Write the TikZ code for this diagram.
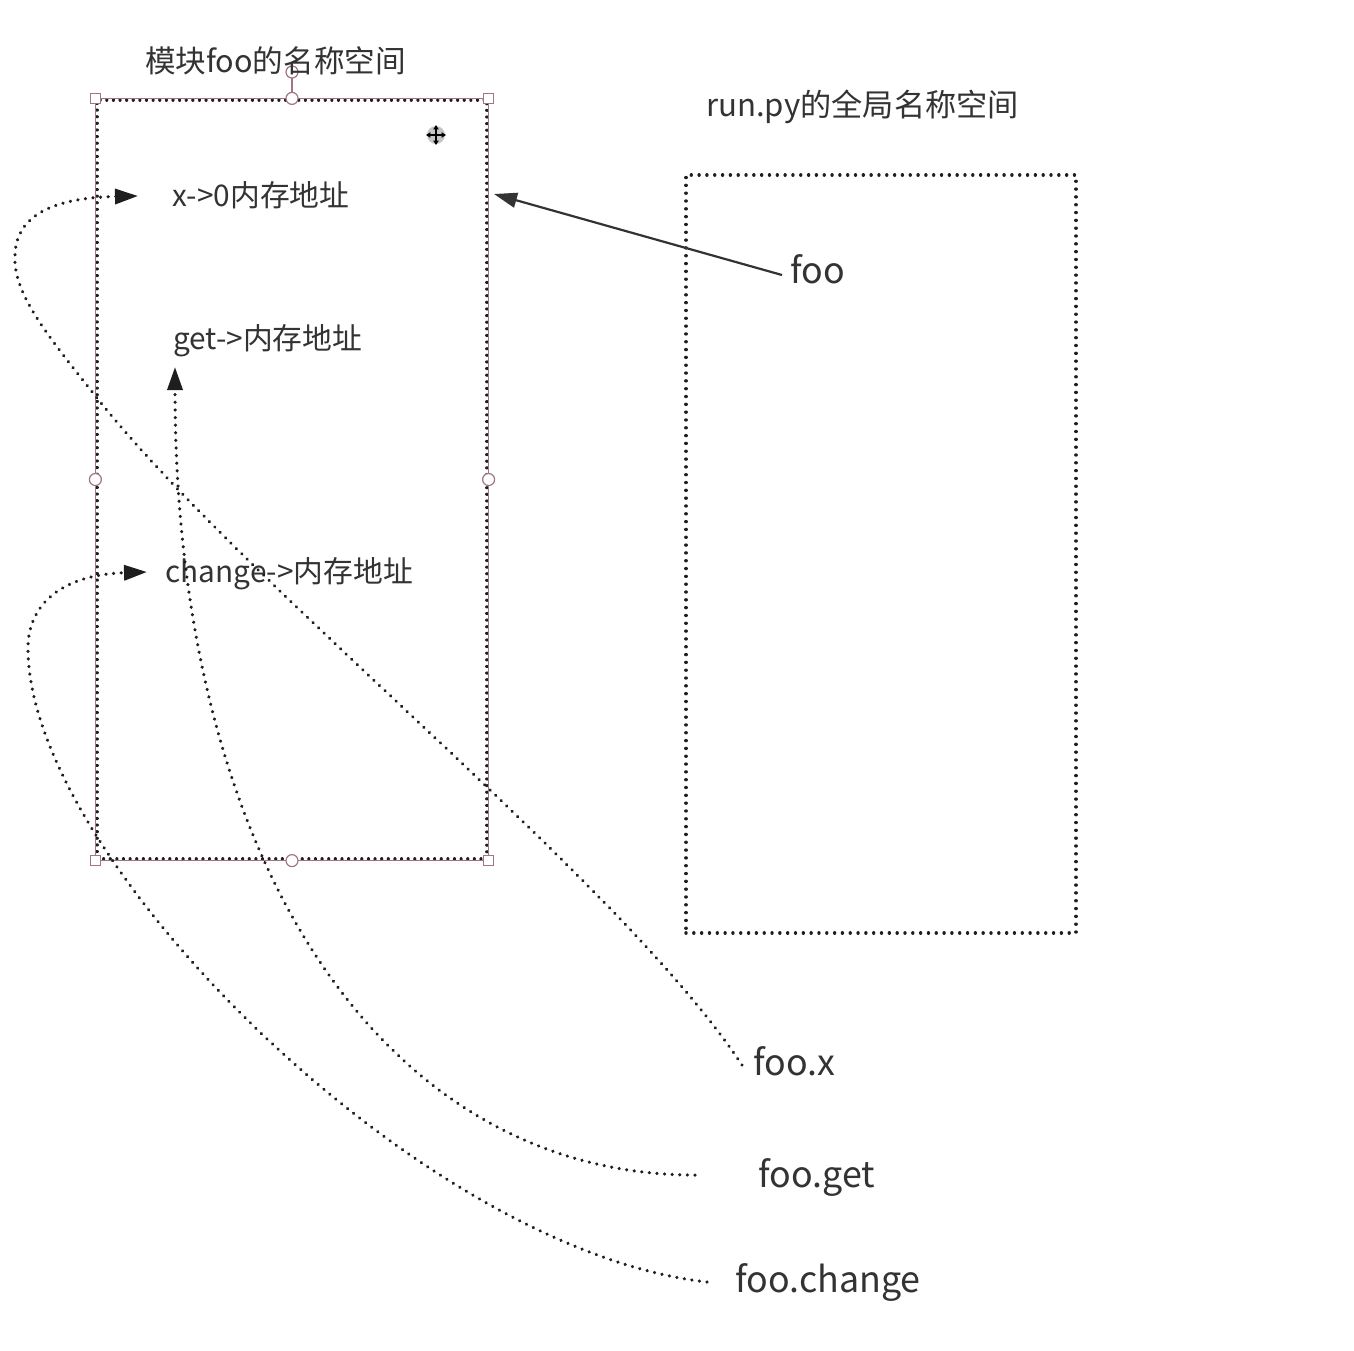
\documentclass[tikz,border=0pt]{standalone}
\usepackage{fontspec}
\setmainfont{Noto Sans CJK SC}
\usetikzlibrary{arrows.meta,calc}
\definecolor{ink}{HTML}{333333}
\definecolor{dotc}{HTML}{1E1E1E}
\definecolor{selred}{HTML}{A27583}
\begin{document}
\begin{tikzpicture}[x=0.5pt,y=-0.5pt,
  lbl/.style={anchor=base west,inner sep=0pt,text=ink,font=\fontsize{14.9pt}{18pt}\selectfont},
  ttl/.style={anchor=base,inner sep=0pt,text=ink,font=\fontsize{15.3pt}{19pt}\selectfont},
  ttlb/.style={anchor=base,inner sep=0pt,text=ink,font=\fontsize{15.6pt}{19pt}\selectfont},
  big/.style={anchor=base west,inner sep=0pt,text=ink,font=\fontsize{17.9pt}{22pt}\selectfont},
  dotline/.style={draw=dotc,line width=1.75pt,line cap=round,dash pattern=on 0.01pt off 3.8pt},
  seldots/.style={draw=dotc,line width=1.6pt,line cap=round,dash pattern=on 0.01pt off 3.3pt},
  gdots/.style={draw=dotc,line width=1.7pt,line cap=round,dash pattern=on 0.01pt off 3.9pt},
  tipA/.style={-{Triangle[length=11.5pt,width=7.5pt]}},
  solidarr/.style={draw=ink,line width=1.1pt,-{Triangle[length=11.5pt,width=7.5pt]}},
  handle/.style={draw=selred,fill=white,line width=0.6pt},
  selline/.style={draw=selred,line width=0.4pt},
]
\useasboundingbox (0,0) rectangle (1354,1350);
\fill[white] (0,0) rectangle (1354,1350);

% boxes
\node[seldots,rectangle,inner sep=0pt,minimum width=195pt,minimum height=379.5pt] (ns) at (292,479.5) {};
\draw[selline] (ns.north west) rectangle (ns.south east);
\node[gdots,rectangle,inner sep=0pt,minimum width=195pt,minimum height=379pt] (gns) at (881,554) {};

% selection handles
\coordinate (rot) at (292,72);
\draw[selline,line width=0.6pt] (ns.north) -- (rot);
\foreach \a in {north west,north east,south west,south east}
  \draw[handle] ($(ns.\a)+(-5,-5)$) rectangle ($(ns.\a)+(5,5)$);
\foreach \a in {north,south,west,east}
  \draw[handle] (ns.\a) circle[radius=3pt];
\draw[handle] (rot) circle[radius=3pt];

% move cursor
\coordinate (cur) at (436,135);
\fill[gray!45] (cur) circle[radius=4.5pt];
\foreach \dx/\dy in {0/-10,0/10,-10/0,10/0}
  \draw[black,line width=0.7pt,-{Triangle[length=2.2pt,width=2.6pt]}] (cur) -- ++(\dx,\dy);

% titles
\node[ttl] (t1) at (275.5,72) {模块foo的名称空间};
\node[ttlb] (t2) at (862.5,116) {run.py的全局名称空间};

% labels in module namespace
\node[lbl] (xl) at (172,206) {x->0内存地址};
\node[lbl] (getl) at (173,349) {get->内存地址};
\node[lbl] (chl) at (165,582) {change->内存地址};

% labels outside
\node[big] (foo) at (790,283) {foo};
\node[big] (foox) at (753,1075) {foo.x};
\node[big] (fooget) at (758,1187) {foo.get};
\node[big] (foochange) at (735,1292) {foo.change};

% foo -> module namespace
\coordinate (footip) at (494,194);
\draw[solidarr] ($(foo.base west)+(-8,-8)$) -- (footip);

% foo.x -> x
\draw[dotline,tipA] ($(foox.base west)+(-11,-10)$)
  .. controls (620,880) and (250,590) .. (97,398)
  .. controls (54,343) and (12,295) .. (15,255)
  .. controls (16,220) and (45,198) .. ($(xl.base west)+(-34,-10)$);

% foo.get -> get
\draw[dotline,tipA] ($(fooget.base west)+(-63,-12)$)
  .. controls (383,1175) and (175,861) .. ($(getl.base west)+(2,18)$);

% foo.change -> change
\draw[dotline,tipA] ($(foochange.base west)+(-28,-10)$)
  .. controls (420,1250) and (30,860) .. (28,650)
  .. controls (27,610) and (55,575) .. ($(chl.base west)+(-18,-10)$);
\end{tikzpicture}
\end{document}
